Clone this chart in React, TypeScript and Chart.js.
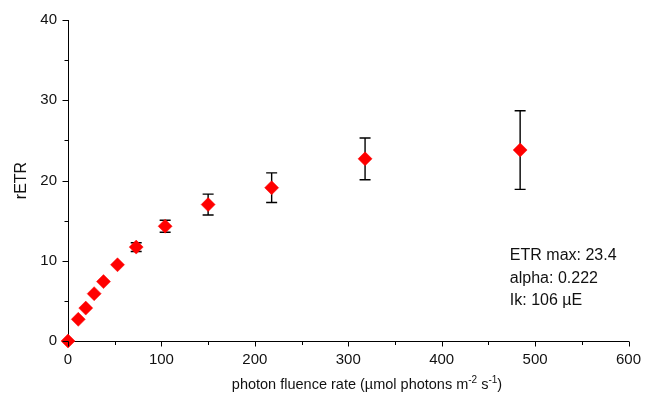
import React, { useEffect, useRef } from "react";
import { Chart, registerables } from "chart.js";

Chart.register(...registerables);

const fluence = [0, 11, 19, 28, 38, 53, 73, 104, 150, 218, 318, 484];
const retr = [0, 2.7, 4.1, 5.9, 7.4, 9.5, 11.7, 14.3, 17.0, 19.1, 22.7, 23.8];
const retrErr = [0, 0, 0, 0, 0, 0, 0.55, 0.75, 1.3, 1.85, 2.6, 4.9];
const xMajorTicks = [0, 100, 200, 300, 400, 500, 600];
const xMinorTicks = [50, 150, 250, 350, 450, 550];
const yMajorTicks = [0, 10, 20, 30, 40];
const yMinorTicks = [5, 15, 25, 35];
const fitLines = ["ETR max: 23.4", "alpha: 0.222", "Ik: 106 µE"];

const FONT = "Liberation Sans, Arial, Helvetica, sans-serif";
const INK = "#111111";

const errorBarPlugin = {
  id: "errorBars",
  beforeDatasetsDraw(chart: any) {
    const { ctx, scales } = chart;
    const xs = scales.x;
    const ys = scales.y;
    ctx.save();
    ctx.strokeStyle = "#000";
    ctx.lineWidth = 1.4;
    fluence.forEach((fx, i) => {
      const e = retrErr[i];
      if (!e) return;
      const px = xs.getPixelForValue(fx);
      const top = ys.getPixelForValue(retr[i] + e);
      const bot = ys.getPixelForValue(retr[i] - e);
      ctx.beginPath();
      ctx.moveTo(px, top);
      ctx.lineTo(px, bot);
      ctx.moveTo(px - 5.5, top);
      ctx.lineTo(px + 5.5, top);
      ctx.moveTo(px - 5.5, bot);
      ctx.lineTo(px + 5.5, bot);
      ctx.stroke();
    });
    ctx.restore();
  },
};

const decorPlugin = {
  id: "decor",
  afterDraw(chart: any) {
    const { ctx, scales, chartArea } = chart;
    const xs = scales.x;
    const ys = scales.y;
    ctx.save();
    ctx.strokeStyle = "#000";
    ctx.lineWidth = 1;
    const xb = Math.round(chartArea.bottom) + 0.5;
    xMajorTicks.forEach((v) => {
      const p = Math.round(xs.getPixelForValue(v)) + 0.5;
      ctx.beginPath();
      ctx.moveTo(p, xb);
      ctx.lineTo(p, xb + 5);
      ctx.stroke();
    });
    xMinorTicks.forEach((v) => {
      const p = Math.round(xs.getPixelForValue(v)) + 0.5;
      ctx.beginPath();
      ctx.moveTo(p, xb);
      ctx.lineTo(p, xb + 3.5);
      ctx.stroke();
    });
    const yl = Math.round(chartArea.left) + 0.5;
    yMajorTicks.forEach((v) => {
      const p = Math.round(ys.getPixelForValue(v)) + 0.5;
      ctx.beginPath();
      ctx.moveTo(yl, p);
      ctx.lineTo(yl - 6, p);
      ctx.stroke();
    });
    yMinorTicks.forEach((v) => {
      const p = Math.round(ys.getPixelForValue(v)) + 0.5;
      ctx.beginPath();
      ctx.moveTo(yl, p);
      ctx.lineTo(yl - 4, p);
      ctx.stroke();
    });

    ctx.fillStyle = INK;
    ctx.font = `16px ${FONT}`;
    ctx.save();
    ctx.translate(22, (chartArea.top + chartArea.bottom) / 2);
    ctx.rotate(-Math.PI / 2);
    ctx.textAlign = "center";
    ctx.textBaseline = "middle";
    ctx.fillText("rETR", 0, 0);
    ctx.restore();

    const parts: [string, boolean][] = [
      ["photon fluence rate (µmol photons m", false],
      ["-2", true],
      [" s", false],
      ["-1", true],
      [")", false],
    ];
    const mainFont = `14.5px ${FONT}`;
    const supFont = `10px ${FONT}`;
    let total = 0;
    parts.forEach(([t, sup]) => {
      ctx.font = sup ? supFont : mainFont;
      total += ctx.measureText(t).width;
    });
    let x = 367 - total / 2;
    const baseY = 389;
    ctx.textAlign = "left";
    ctx.textBaseline = "alphabetic";
    parts.forEach(([t, sup]) => {
      ctx.font = sup ? supFont : mainFont;
      ctx.fillText(t, x, sup ? baseY - 6 : baseY);
      x += ctx.measureText(t).width;
    });

    ctx.font = `16px ${FONT}`;
    ctx.textBaseline = "middle";
    const tx = xs.getPixelForValue(473);
    fitLines.forEach((line, i) => {
      ctx.fillText(line, tx, 256 + i * 22.5);
    });
    ctx.restore();
  },
};

export default function App() {
  const ref = useRef<HTMLCanvasElement | null>(null);
  useEffect(() => {
    document.body.style.margin = "0";
    const canvas = ref.current;
    if (!canvas) return;
    const chart = new Chart(canvas, {
      type: "scatter",
      data: {
        datasets: [
          {
            data: fluence.map((f, i) => ({ x: f, y: retr[i] })),
            pointStyle: "rectRot",
            pointRadius: 7,
            pointHoverRadius: 7,
            backgroundColor: "#ff0000",
            borderColor: "#ff0000",
            borderWidth: 0.5,
            showLine: false,
            clip: false,
          },
        ],
      },
      options: {
        responsive: false,
        animation: false,
        layout: { padding: { top: 20, right: 17.5, left: 0, bottom: 0 } },
        plugins: {
          legend: { display: false },
          tooltip: { enabled: false },
        },
        scales: {
          x: {
            type: "linear",
            min: 0,
            max: 600,
            grid: { display: false, drawTicks: false },
            border: { display: true, color: "#000", width: 1 },
            ticks: {
              stepSize: 100,
              padding: 10,
              color: INK,
              font: { family: FONT, size: 15 },
              maxRotation: 0,
            },
            afterFit: (s: any) => {
              s.height = 57;
              s.paddingLeft = 0;
              s.paddingRight = 0;
            },
          },
          y: {
            type: "linear",
            min: 0,
            max: 40,
            grid: { display: false, drawTicks: false },
            border: { display: true, color: "#000", width: 1 },
            ticks: {
              stepSize: 10,
              padding: 11,
              color: INK,
              font: { family: FONT, size: 15 },
            },
            afterFit: (s: any) => {
              s.width = 68;
              s.paddingTop = 0;
              s.paddingBottom = 0;
            },
          },
        },
      },
      plugins: [errorBarPlugin, decorPlugin],
    });
    return () => chart.destroy();
  }, []);
  return (
    <div style={{ width: 646, height: 398 }}>
      <canvas ref={ref} width={646} height={398} />
    </div>
  );
}
